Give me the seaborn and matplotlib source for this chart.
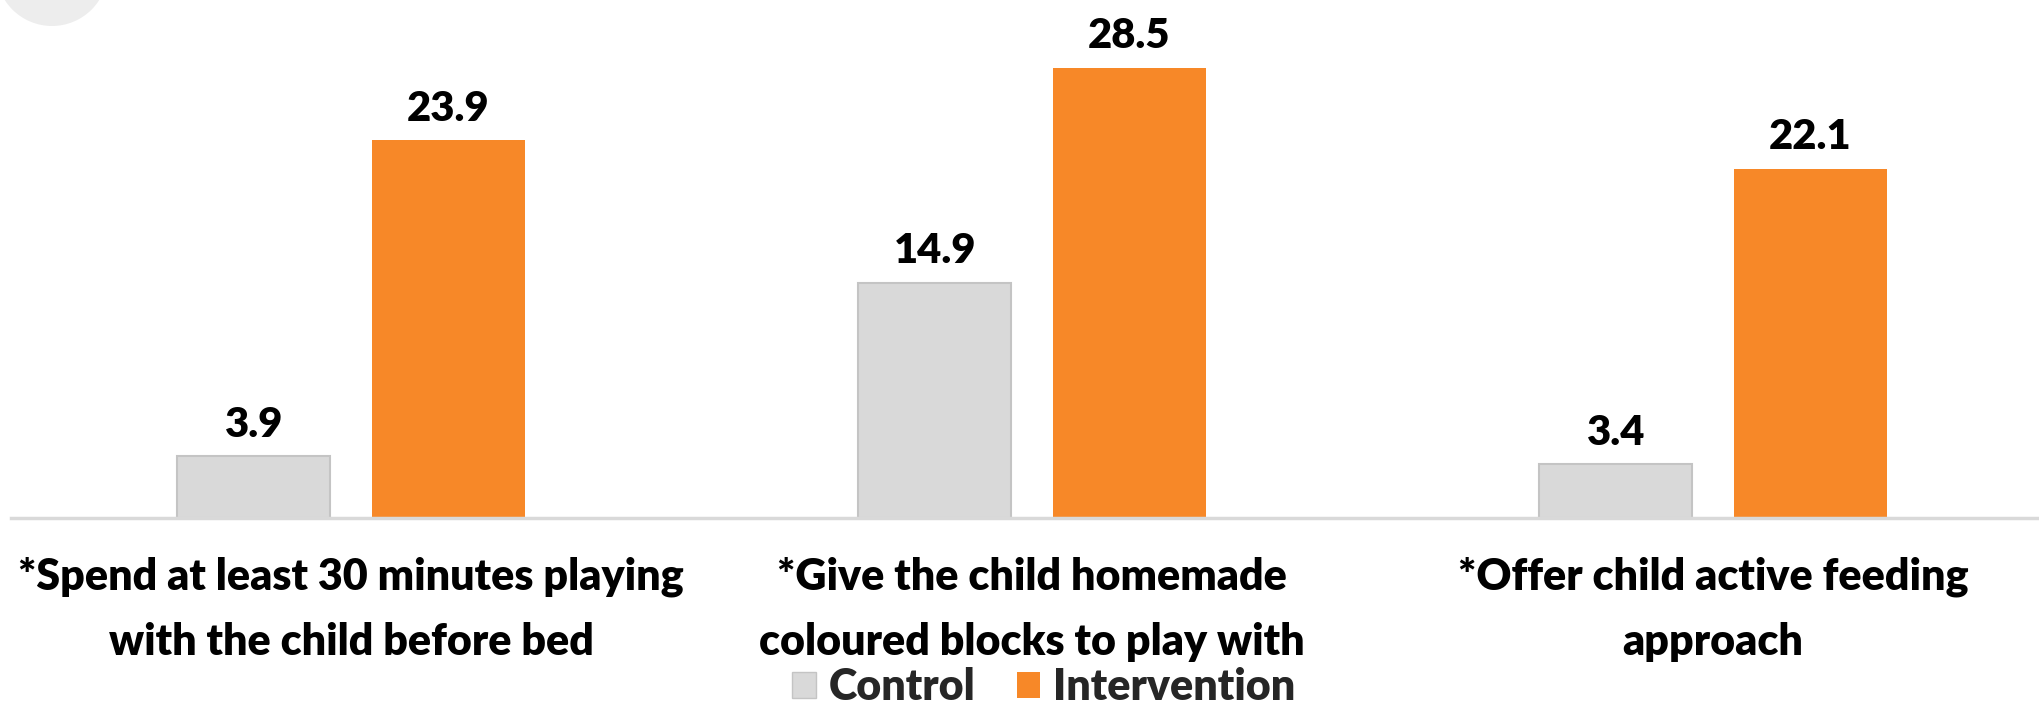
import matplotlib
matplotlib.use("Agg")
import matplotlib.pyplot as plt
import matplotlib.patches as mpatches
from matplotlib.patches import Ellipse
import seaborn as sns
import pandas as pd

categories = ["*Spend at least 30 minutes playing\nwith the child before bed",
              "*Give the child homemade\ncoloured blocks to play with",
              "*Offer child active feeding\napproach"]
groups = ["Control", "Intervention"]
control = [3.9, 14.9, 3.4]
intervention = [23.9, 28.5, 22.1]

df = pd.DataFrame({
    "category": categories * 2,
    "group": ["Control"] * 3 + ["Intervention"] * 3,
    "value": control + intervention,
})

sns.set_theme(style="white")
plt.rcParams['font.family'] = ['Lato', 'DejaVu Sans']
WEIGHT = 'heavy'

W, H = 2039, 704
fig = plt.figure(figsize=(W / 100, H / 100), dpi=100)
ax_left = 10.5 / W
ax_bottom = (H - 518) / H
ax = fig.add_axes([ax_left, ax_bottom, 1 - ax_left, 1 - ax_bottom])

palette = {"Control": "#D9D9D9", "Intervention": "#F78828"}
sns.barplot(data=df, x="category", y="value", hue="group", order=categories,
            hue_order=groups, palette=palette, width=0.571, gap=0.213,
            saturation=1, legend=False, ax=ax, zorder=2)

for bar in ax.patches[:3]:
    bar.set_edgecolor("#C4C4C4")
    bar.set_linewidth(1.5)
for bar in ax.patches[3:6]:
    bar.set_edgecolor("none")

for cont in ax.containers:
    ax.bar_label(cont, fmt="%.1f", padding=9, fontsize=30, fontweight=WEIGHT, color="black")

ax.set_xlim(-0.5, (W - 351) / 681)
ax.set_ylim(0, 518 / 15.8)
ax.set_xlabel("")
ax.set_ylabel("")
ax.set_yticks([])
for s in ["top", "right", "left"]:
    ax.spines[s].set_visible(False)
ax.spines["bottom"].set_color("#D9D9D9")
ax.spines["bottom"].set_linewidth(2.5)
ax.tick_params(axis="x", length=0, pad=28)
ax.set_xticklabels(categories, fontsize=31, fontweight=WEIGHT, linespacing=1.75, color="black")

handles = [mpatches.Patch(facecolor=palette[g], edgecolor="#C4C4C4" if g == "Control" else "none", label=g) for g in groups]
fig.legend(handles=handles, loc="lower center", bbox_to_anchor=(0.512, -0.06), ncol=2, frameon=False,
           prop={'size': 31, 'weight': WEIGHT}, handlelength=0.55, handleheight=0.55,
           handletextpad=0.3, columnspacing=0.95)

ell = Ellipse((52 / W, (H + 30) / H), width=112 / W, height=112 / H, transform=fig.transFigure,
              facecolor="#EDEDED", edgecolor="none", zorder=0)
fig.patches.append(ell)

fig.savefig("out.png", dpi=100)
